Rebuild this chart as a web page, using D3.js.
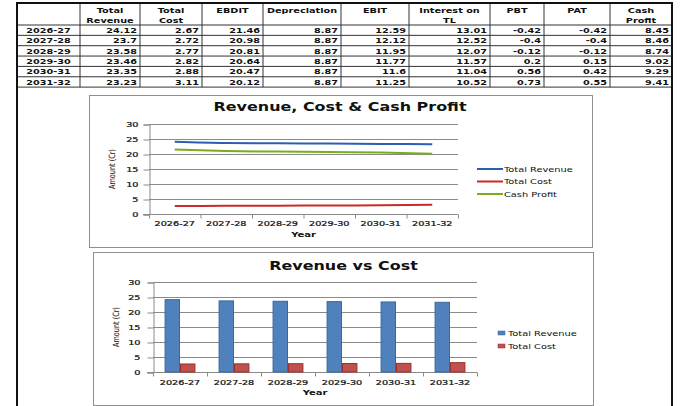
<!DOCTYPE html>
<html>
<head>
<meta charset="utf-8">
<script src="https://cdn.jsdelivr.net/npm/d3@7"></script>
<style>
body { margin: 0; background: #fff; }
text { font-family: "DejaVu Sans", Verdana, sans-serif; fill: #111; }
</style>
</head>
<body>
<script>
var years = ["2026-27", "2027-28", "2028-29", "2029-30", "2030-31", "2031-32"];
var totalRevenue = [24.12, 23.7, 23.58, 23.46, 23.35, 23.23];
var totalCost = [2.67, 2.72, 2.77, 2.82, 2.88, 3.11];
var ebdit = [21.46, 20.98, 20.81, 20.64, 20.47, 20.12];
var depreciation = [8.87, 8.87, 8.87, 8.87, 8.87, 8.87];
var ebit = [12.59, 12.12, 11.95, 11.77, 11.6, 11.25];
var interestOnTL = [13.01, 12.52, 12.07, 11.57, 11.04, 10.52];
var pbt = [-0.42, -0.4, -0.12, 0.2, 0.56, 0.73];
var pat = [-0.42, -0.4, -0.12, 0.15, 0.42, 0.55];
var cashProfit = [8.45, 8.46, 8.74, 9.02, 9.29, 9.41];
// the "Cash Profit" line in the chart sits at the EBDIT level
var cashProfitLine = ebdit;
var yTicks = [0, 5, 10, 15, 20, 25, 30];
var headers = [[""], ["Total", "Revenue"], ["Total", "Cost"], ["EBDIT"], ["Depreciation"],
               ["EBIT"], ["Interest on", "TL"], ["PBT"], ["PAT"], ["Cash", "Profit"]];
var tableCols = [totalRevenue, totalCost, ebdit, depreciation, ebit, interestOnTL, pbt, pat, cashProfit];

var W = 680, H = 406;
var SX = 1.33; // the source picture is stretched sideways
var blue = "#2d5eb0", red = "#cc2a2a", green = "#78ad1c";

var svg = d3.select("body").append("svg")
  .attr("width", W).attr("height", H);

function txt(g, x, y, s, anchor, size, weight) {
  return g.append("text")
    .attr("transform", "translate(" + x + "," + y + ") scale(" + SX + ",1)")
    .attr("text-anchor", anchor || "start")
    .style("font-size", size + "px")
    .style("font-weight", weight || "normal")
    .text(s);
}
function stretchAxisText(g) {
  g.selectAll("text").each(function() {
    var t = d3.select(this), x = +t.attr("x") || 0, y = +t.attr("y") || 0;
    t.attr("x", null).attr("y", null)
     .attr("transform", "translate(" + x + "," + y + ") scale(" + SX + ",1)");
  });
}

// ---------- table ----------
var colX = [17, 80, 140, 202, 263, 341, 409, 490, 544, 610, 672];
var tTop = 3, headBottom = 25, rowH = 10.35;
var tab = svg.append("g");
var rowY = d3.range(years.length + 1).map(function(i) { return headBottom + i * rowH; });

tab.selectAll(".hl").data([headBottom].concat(rowY.slice(1))).enter().append("line")
  .attr("x1", colX[0]).attr("x2", colX[colX.length - 1])
  .attr("y1", function(d) { return d; }).attr("y2", function(d) { return d; })
  .attr("stroke", "#333").attr("stroke-width", 1);
tab.selectAll(".vl").data(colX.slice(1, -1)).enter().append("line")
  .attr("x1", function(d) { return d; }).attr("x2", function(d) { return d; })
  .attr("y1", tTop).attr("y2", rowY[rowY.length - 1])
  .attr("stroke", "#333").attr("stroke-width", 1);
tab.append("line").attr("x1", colX[0]).attr("x2", colX[colX.length - 1])
  .attr("y1", tTop).attr("y2", tTop).attr("stroke", "#111").attr("stroke-width", 2);
[colX[0], colX[colX.length - 1]].forEach(function(x) {
  tab.append("line").attr("x1", x).attr("x2", x).attr("y1", tTop - 1).attr("y2", H)
    .attr("stroke", "#111").attr("stroke-width", 2);
});

headers.forEach(function(h, c) {
  var cx = (colX[c] + colX[c + 1]) / 2;
  h.forEach(function(line, k) {
    txt(tab, cx, 12.5 + k * 10.5, line, "middle", 7.3, "bold");
  });
});
years.forEach(function(y, r) {
  var base = rowY[r] + rowH / 2 + 2.8;
  txt(tab, (colX[0] + colX[1]) / 2, base, y, "middle", 7.3, "bold");
  tableCols.forEach(function(col, c) {
    txt(tab, colX[c + 2] - 3, base, String(col[r]), "end", 7.3, "bold");
  });
});

// ---------- shared chart helpers ----------
function chartFrame(x0, y0, x1, y1) {
  svg.append("rect").attr("x", x0 + 0.5).attr("y", y0 + 0.5)
    .attr("width", x1 - x0).attr("height", y1 - y0)
    .attr("fill", "#fff").attr("stroke", "#8f8f8f");
}
function drawAxes(g, x, y, pad, labelOff) {
  var r = x.range();
  g.append("g").selectAll("line").data(yTicks.slice(1)).enter().append("line")
    .attr("x1", r[0]).attr("x2", r[1])
    .attr("y1", function(d) { return y(d) + 0.5; }).attr("y2", function(d) { return y(d) + 0.5; })
    .attr("stroke", "#8a8a8a");
  var ya = g.append("g").attr("transform", "translate(" + (r[0] + 0.5) + ",0.5)")
    .call(d3.axisLeft(y).tickValues(yTicks).tickSize(6).tickPadding(pad));
  ya.selectAll("path,line").attr("stroke", "#8a8a8a");
  ya.selectAll("text").style("font-size", "7.3px")
    .style("font-family", "'DejaVu Sans', Verdana, sans-serif")
    .attr("fill", "#111").attr("stroke", "#111").attr("stroke-width", 0.25);
  stretchAxisText(ya);
  var y0 = y(0) + 0.5;
  g.append("line").attr("x1", r[0] - 6).attr("x2", r[1]).attr("y1", y0).attr("y2", y0).attr("stroke", "#8a8a8a");
  var bounds = x.domain().map(function(d) { return x(d); }).concat([r[1]]);
  g.append("g").selectAll("line").data(bounds).enter().append("line")
    .attr("x1", function(d) { return d + 0.5; }).attr("x2", function(d) { return d + 0.5; })
    .attr("y1", y0).attr("y2", y0 + 4).attr("stroke", "#8a8a8a");
  years.forEach(function(d) {
    txt(g, x(d) + x.bandwidth() / 2, y(0) + labelOff, d, "middle", 7.3)
      .attr("stroke", "#111").attr("stroke-width", 0.25);
  });
}

// ---------- line chart ----------
chartFrame(89, 95, 592, 247);
var lc = svg.append("g");
var x1 = d3.scaleBand().domain(years).range([149, 458]);
var y1 = d3.scaleLinear().domain([0, 30]).range([214, 124]);
drawAxes(lc, x1, y1, 5, 12);
txt(lc, 340, 111, "Revenue, Cost & Cash Profit", "middle", 12, "bold");
txt(lc, (149 + 458) / 2, 237, "Year", "middle", 7.5, "bold");
lc.append("text").attr("transform", "translate(115,169) scale(" + SX + ",1) rotate(-90)")
  .attr("text-anchor", "middle").style("font-size", "6.5px").text("Amount (Cr)");

var lineSeries = [
  { name: "Total Revenue", values: totalRevenue, color: blue },
  { name: "Total Cost", values: totalCost, color: red },
  { name: "Cash Profit", values: cashProfitLine, color: green }
];
var line = d3.line()
  .x(function(d, i) { return x1(years[i]) + x1.bandwidth() / 2; })
  .y(function(d) { return y1(d); })
  .curve(d3.curveMonotoneX);
lc.selectAll(".series").data(lineSeries).enter().append("path")
  .attr("d", function(s) { return line(s.values); })
  .attr("fill", "none").attr("stroke", function(s) { return s.color; })
  .attr("stroke-width", 2);
lineSeries.forEach(function(s, i) {
  var ly = 169 + i * 12.5;
  lc.append("line").attr("x1", 477).attr("x2", 503).attr("y1", ly).attr("y2", ly)
    .attr("stroke", s.color).attr("stroke-width", 2);
  txt(lc, 504, ly + 2.6, s.name, "start", 7.4).attr("fill", "#222");
});

// ---------- bar chart ----------
chartFrame(93, 252, 593, 405);
var bc = svg.append("g");
var x2 = d3.scaleBand().domain(years).range([153, 477]);
var y2 = d3.scaleLinear().domain([0, 30]).range([372, 282]);
drawAxes(bc, x2, y2, 7, 13);
txt(bc, 343.5, 270, "Revenue vs Cost", "middle", 12, "bold");
txt(bc, (153 + 477) / 2, 395, "Year", "middle", 7.5, "bold");
bc.append("text").attr("transform", "translate(119,327) scale(" + SX + ",1) rotate(-90)")
  .attr("text-anchor", "middle").style("font-size", "6.5px").text("Amount (Cr)");

var barW = x2.bandwidth() / 3.5;
var barSeries = [
  { name: "Total Revenue", values: totalRevenue, fill: "#4f81bd", stroke: "#3a679e", off: -1 },
  { name: "Total Cost", values: totalCost, fill: "#c0504d", stroke: "#9b2f2c", off: 0 }
];
barSeries.forEach(function(s) {
  bc.append("g").selectAll("rect").data(s.values).enter().append("rect")
    .attr("x", function(d, i) { return x2(years[i]) + x2.bandwidth() / 2 + s.off * barW + 0.5; })
    .attr("y", function(d) { return y2(d); })
    .attr("width", barW - 1)
    .attr("height", function(d) { return y2(0) - y2(d); })
    .attr("fill", s.fill).attr("stroke", s.stroke).attr("stroke-width", 1);
});
barSeries.forEach(function(s, i) {
  var ly = 333 + i * 13;
  bc.append("rect").attr("x", 498).attr("y", ly - 2).attr("width", 7).attr("height", 4)
    .attr("fill", s.fill).attr("stroke", s.stroke).attr("stroke-width", 0.5);
  txt(bc, 508, ly + 2.6, s.name, "start", 7.4).attr("fill", "#222");
});
</script>
</body>
</html>
